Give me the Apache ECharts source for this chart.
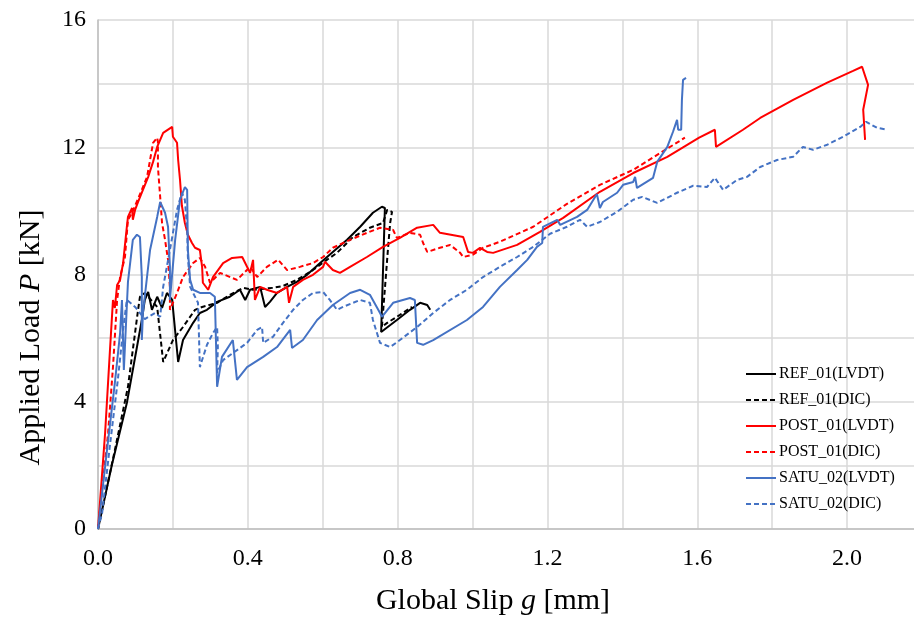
<!DOCTYPE html>
<html lang="en">
<head>
    <meta charset="UTF-8">
    <title>Load - Slip</title>
    <style>
        html, body { margin: 0; padding: 0; background: #fff; }
        #main { width: 914px; height: 619px; }
    </style>
</head>
<body>
<div id="main"></div>
<script src="https://cdn.jsdelivr.net/npm/echarts@6/dist/echarts.min.js"></script>
<script>
    // [slip g (mm), load P (kN)]
    var refLvdt = [
        [0, 0], [0.037, 2.01], [0.077, 3.96], [0.117, 6.57], [0.125, 7.20], [0.134, 7.45],
        [0.144, 6.89], [0.158, 7.30], [0.171, 6.95], [0.184, 7.42], [0.198, 7.20], [0.214, 5.25],
        [0.227, 5.94], [0.254, 6.48], [0.272, 6.79], [0.291, 6.89], [0.318, 7.14], [0.352, 7.30],
        [0.379, 7.52], [0.393, 7.20], [0.406, 7.52], [0.433, 7.61], [0.446, 6.98], [0.459, 7.14],
        [0.478, 7.42], [0.505, 7.61], [0.531, 7.77], [0.558, 7.99], [0.593, 8.36], [0.627, 8.71],
        [0.665, 9.09], [0.700, 9.50], [0.734, 9.94], [0.758, 10.13], [0.766, 10.09], [0.756, 6.19],
        [0.798, 6.57], [0.833, 6.89], [0.860, 7.11], [0.879, 7.04], [0.887, 6.89]
    ];
    var refDic = [
        [0, 0], [0.045, 2.48], [0.080, 4.47], [0.107, 6.89], [0.112, 7.30], [0.125, 7.42],
        [0.158, 6.98], [0.174, 5.25], [0.200, 5.94], [0.227, 6.35], [0.259, 6.89], [0.278, 6.98],
        [0.318, 7.11], [0.352, 7.36], [0.387, 7.58], [0.414, 7.52], [0.467, 7.58], [0.494, 7.64],
        [0.531, 7.83], [0.574, 8.14], [0.611, 8.46], [0.638, 8.68], [0.681, 9.18], [0.726, 9.47],
        [0.761, 9.62], [0.772, 10.03], [0.785, 9.97], [0.780, 9.62], [0.774, 8.77], [0.758, 6.35],
        [0.772, 6.48], [0.806, 6.73], [0.838, 6.98]
    ];
    var postLvdt = [
        [0, 0], [0.019, 3.02], [0.032, 5.63], [0.040, 7.20], [0.045, 6.95], [0.051, 7.67],
        [0.059, 7.83], [0.067, 8.36], [0.077, 9.50], [0.080, 9.81], [0.091, 10.09], [0.093, 9.72],
        [0.099, 10.03], [0.107, 10.28], [0.117, 10.57], [0.134, 11.07], [0.147, 11.54], [0.158, 12.01],
        [0.166, 12.23], [0.174, 12.45], [0.198, 12.64], [0.200, 12.33], [0.211, 12.14], [0.214, 11.60],
        [0.219, 10.97], [0.224, 10.16], [0.232, 9.62], [0.240, 9.25], [0.251, 8.99], [0.259, 8.84],
        [0.272, 8.77], [0.278, 8.24], [0.280, 7.74], [0.294, 7.52], [0.307, 7.92], [0.334, 8.36],
        [0.358, 8.52], [0.385, 8.55], [0.393, 8.36], [0.406, 8.05], [0.414, 8.46], [0.419, 7.20],
        [0.433, 7.61], [0.451, 7.52], [0.478, 7.42], [0.505, 7.61], [0.510, 7.11], [0.521, 7.61],
        [0.547, 7.83], [0.574, 7.99], [0.601, 8.24], [0.606, 8.40], [0.627, 8.14], [0.646, 8.05],
        [0.673, 8.24], [0.718, 8.55], [0.761, 8.87], [0.806, 9.15], [0.852, 9.47], [0.895, 9.56],
        [0.913, 9.31], [0.975, 9.18], [0.988, 8.71], [1.001, 8.68], [1.020, 8.84], [1.039, 8.71],
        [1.055, 8.68], [1.119, 8.93], [1.180, 9.34], [1.242, 9.78], [1.340, 10.60], [1.429, 11.19],
        [1.520, 11.70], [1.605, 12.30], [1.647, 12.55], [1.650, 12.01], [1.722, 12.55], [1.768, 12.92],
        [1.856, 13.49], [1.947, 14.03], [2.016, 14.40], [2.040, 14.53], [2.056, 13.96], [2.043, 13.18],
        [2.048, 12.23]
    ];
    var postDic = [
        [0, 0], [0.027, 3.02], [0.040, 5.09], [0.051, 7.20], [0.059, 7.92], [0.072, 8.55],
        [0.080, 9.72], [0.091, 9.94], [0.117, 10.66], [0.131, 11.07], [0.139, 11.60], [0.147, 12.14],
        [0.158, 12.30], [0.160, 12.17], [0.160, 11.38], [0.166, 10.44], [0.171, 9.62], [0.179, 9.09],
        [0.187, 8.46], [0.192, 7.61], [0.192, 6.89], [0.211, 7.42], [0.227, 7.92], [0.254, 8.36],
        [0.272, 8.52], [0.286, 8.24], [0.299, 7.74], [0.326, 8.05], [0.371, 7.83], [0.406, 8.24],
        [0.425, 7.92], [0.451, 8.24], [0.481, 8.46], [0.505, 8.14], [0.539, 8.24], [0.574, 8.36],
        [0.601, 8.55], [0.627, 8.84], [0.673, 9.09], [0.718, 9.31], [0.753, 9.47], [0.788, 9.40],
        [0.798, 9.15], [0.833, 9.31], [0.860, 9.25], [0.868, 8.99], [0.879, 8.71], [0.913, 8.84],
        [0.940, 8.93], [0.967, 8.68], [0.975, 8.55], [1.001, 8.62], [1.028, 8.84], [1.073, 9.03],
        [1.162, 9.50], [1.252, 10.22], [1.340, 10.82], [1.429, 11.29], [1.501, 11.82], [1.567, 12.30]
    ];
    var satuLvdt = [
        [0, 0], [0.024, 2.48], [0.045, 4.59], [0.059, 6.16], [0.064, 7.20], [0.069, 5.00],
        [0.080, 7.77], [0.093, 9.09], [0.104, 9.25], [0.112, 9.18], [0.117, 7.92], [0.117, 5.94],
        [0.120, 6.79], [0.139, 8.77], [0.158, 9.81], [0.166, 10.28], [0.179, 9.94], [0.187, 9.50],
        [0.192, 8.24], [0.192, 7.20], [0.206, 9.09], [0.219, 10.35], [0.232, 10.75], [0.238, 10.66],
        [0.240, 8.77], [0.246, 7.83], [0.254, 7.52], [0.272, 7.42], [0.299, 7.42], [0.312, 7.30],
        [0.318, 4.47], [0.331, 5.41], [0.360, 5.94], [0.371, 4.69], [0.398, 5.09], [0.441, 5.41],
        [0.478, 5.72], [0.513, 6.26], [0.518, 5.69], [0.547, 5.94], [0.585, 6.57], [0.627, 7.04],
        [0.673, 7.42], [0.700, 7.52], [0.726, 7.36], [0.753, 6.79], [0.758, 6.67], [0.788, 7.11],
        [0.833, 7.26], [0.846, 7.20], [0.852, 5.85], [0.868, 5.79], [0.895, 5.94], [0.985, 6.57],
        [1.028, 6.98], [1.073, 7.61], [1.119, 8.14], [1.146, 8.46], [1.172, 8.87], [1.186, 8.99],
        [1.188, 9.50], [1.226, 9.72], [1.234, 9.56], [1.279, 9.81], [1.306, 10.03], [1.332, 10.53],
        [1.340, 10.09], [1.348, 10.28], [1.386, 10.57], [1.402, 10.82], [1.429, 10.91], [1.434, 11.07],
        [1.439, 10.72], [1.482, 11.04], [1.493, 11.54], [1.520, 12.01], [1.535, 12.48], [1.546, 12.86],
        [1.549, 12.55], [1.557, 12.55], [1.559, 13.49], [1.562, 14.12], [1.570, 14.18]
    ];
    var satuDic = [
        [0, 0], [0.011, 0.50], [0.032, 2.64], [0.053, 4.69], [0.067, 6.26], [0.077, 7.20],
        [0.099, 6.98], [0.125, 6.60], [0.152, 6.79], [0.166, 6.67], [0.174, 7.61], [0.192, 8.77],
        [0.211, 10.03], [0.224, 10.57], [0.232, 10.35], [0.238, 9.40], [0.240, 8.55], [0.246, 7.61],
        [0.254, 7.42], [0.267, 7.11], [0.272, 5.09], [0.291, 5.79], [0.307, 6.16], [0.318, 6.35],
        [0.320, 5.72], [0.318, 4.91], [0.334, 5.31], [0.360, 5.53], [0.398, 5.85], [0.425, 6.26],
        [0.438, 6.35], [0.441, 5.85], [0.467, 6.04], [0.494, 6.48], [0.521, 6.89], [0.547, 7.20],
        [0.574, 7.42], [0.601, 7.45], [0.619, 7.20], [0.638, 6.89], [0.654, 6.98], [0.700, 7.20],
        [0.726, 7.11], [0.734, 6.57], [0.753, 5.85], [0.780, 5.72], [0.806, 5.94], [0.852, 6.35],
        [0.895, 6.79], [0.940, 7.20], [0.985, 7.52], [1.028, 7.92], [1.073, 8.24], [1.119, 8.55],
        [1.162, 8.87], [1.207, 9.28], [1.252, 9.50], [1.287, 9.72], [1.306, 9.50], [1.340, 9.65],
        [1.386, 9.97], [1.429, 10.35], [1.453, 10.44], [1.493, 10.25], [1.546, 10.57], [1.589, 10.79],
        [1.626, 10.75], [1.647, 11.04], [1.669, 10.66], [1.706, 10.97], [1.733, 11.07], [1.768, 11.38],
        [1.813, 11.60], [1.856, 11.70], [1.882, 12.01], [1.909, 11.92], [1.947, 12.08], [1.989, 12.33],
        [2.035, 12.64], [2.051, 12.80], [2.080, 12.61], [2.107, 12.55]
    ];

    var seriesNames = ['REF_01(LVDT)', 'REF_01(DIC)', 'POST_01(LVDT)', 'POST_01(DIC)', 'SATU_02(LVDT)', 'SATU_02(DIC)'];
    var seriesData = [refLvdt, refDic, postLvdt, postDic, satuLvdt, satuDic];
    var seriesColors = ['#000000', '#000000', '#ff0000', '#ff0000', '#4472c4', '#4472c4'];
    var seriesDashed = [false, true, false, true, false, true];

    var font = 'Liberation Serif';
    var chart = echarts.init(document.getElementById('main'));

    var series = [];
    for (var i = 0; i < seriesNames.length; i++) {
        series.push({
            name: seriesNames[i],
            type: 'line',
            data: seriesData[i],
            symbol: 'none',
            showSymbol: false,
            color: seriesColors[i],
            lineStyle: {
                color: seriesColors[i],
                width: 2,
                type: seriesDashed[i] ? [5, 3] : 'solid'
            }
        });
    }

    var option = {
        animation: false,
        backgroundColor: '#fff',
        // the x axis runs to 2.2, a little past the right edge of the picture
        grid: { left: 98, top: 20, width: 824, height: 509, outerBoundsMode: 'none' },
        legend: {
            orient: 'vertical',
            left: 745,
            top: 366,
            padding: 0,
            itemWidth: 30,
            itemHeight: 15,
            itemGap: 10,
            data: seriesNames,
            itemStyle: { opacity: 0 },
            textStyle: { fontFamily: font, fontSize: 16, color: '#000', padding: [0, 0, 0, -2] }
        },
        xAxis: {
            type: 'value',
            min: 0,
            max: 2.2,
            interval: 0.2,
            name: 'Global Slip {i|g} [mm]',
            nameLocation: 'middle',
            nameGap: 57,
            nameTextStyle: {
                fontFamily: font, fontSize: 30, color: '#000', padding: [0, 34, 0, 0],
                rich: { i: { fontFamily: font, fontSize: 30, fontStyle: 'italic', color: '#000' } }
            },
            axisLine: { lineStyle: { color: '#bfbfbf', width: 1.5 } },
            axisTick: { show: false },
            axisLabel: {
                fontFamily: font, fontSize: 24, color: '#000', margin: 18,
                formatter: function (v) {
                    return Math.round(v * 10) % 4 === 0 ? v.toFixed(1) : '';
                }
            },
            splitLine: { lineStyle: { color: '#d9d9d9', width: 1.5 } }
        },
        yAxis: {
            type: 'value',
            min: 0,
            max: 16,
            interval: 2,
            name: 'Applied Load {i|P} [kN]',
            nameLocation: 'middle',
            nameGap: 52,
            nameTextStyle: {
                fontFamily: font, fontSize: 30, color: '#000', padding: [0, 126, 0, 0],
                rich: { i: { fontFamily: font, fontSize: 30, fontStyle: 'italic', color: '#000' } }
            },
            axisLine: { show: true, lineStyle: { color: '#bfbfbf', width: 1.5 } },
            axisTick: { show: false },
            axisLabel: {
                fontFamily: font, fontSize: 24, color: '#000', margin: 12,
                formatter: function (v) {
                    return v % 4 === 0 ? String(v) : '';
                }
            },
            splitLine: { lineStyle: { color: '#d9d9d9', width: 1.5 } }
        },
        series: series
    };

    chart.setOption(option);
</script>
</body>
</html>
